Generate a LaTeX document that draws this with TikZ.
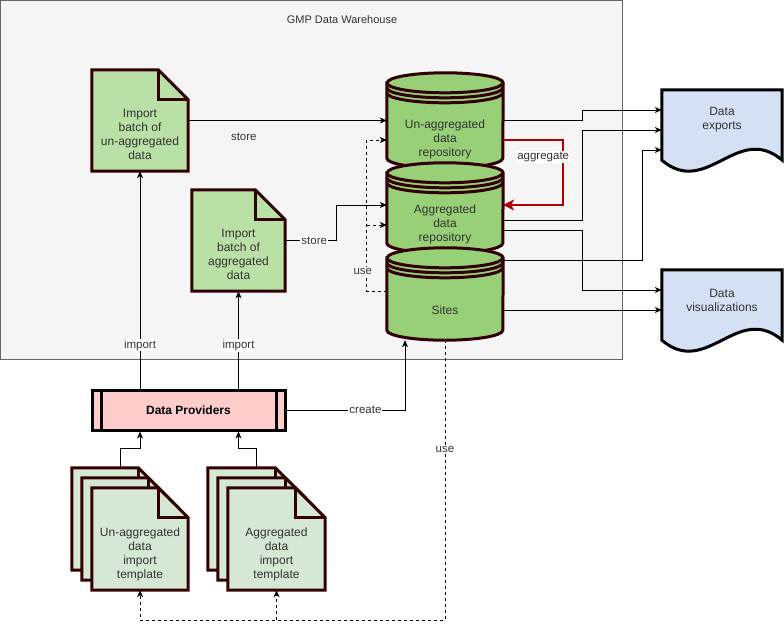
\documentclass[tikz,border=0pt]{standalone}
\usepackage{fontspec}
\setmainfont{Liberation Sans}
\usetikzlibrary{arrows.meta,shapes,calc}
\definecolor{wh_fill}{HTML}{F5F5F5}
\definecolor{wh_line}{HTML}{666666}
\definecolor{dark_line}{HTML}{330000}
\definecolor{batch_green}{HTML}{B9E0A5}
\definecolor{store_green}{HTML}{97D077}
\definecolor{tmpl_green}{HTML}{D5E8D4}
\definecolor{prov_pink}{HTML}{FFCCCC}
\definecolor{out_blue}{HTML}{D4E1F5}
\definecolor{aggr_red}{HTML}{B20000}
\definecolor{txt_gray}{HTML}{333333}

\pgfdeclarelayer{back}
\pgfsetlayers{back,main}

% page with folded corner round node #1, shifted by (#2,#3)pt
\newcommand{\foldpage}[4]{%
  \draw[shapeline,fill=#4] ([xshift=#2pt,yshift=#3pt]#1.north west)
    -- ([xshift=#2pt-30pt,yshift=#3pt]#1.north east)
    -- ([xshift=#2pt,yshift=#3pt-30pt]#1.north east)
    -- ([xshift=#2pt,yshift=#3pt]#1.south east)
    -- ([xshift=#2pt,yshift=#3pt]#1.south west) -- cycle;
  \draw[shapeline] ([xshift=#2pt-30pt,yshift=#3pt]#1.north east)
    |- ([xshift=#2pt,yshift=#3pt-30pt]#1.north east);
}
% data store drum round node #1
\newcommand{\datastore}[1]{%
  \draw[shapeline,fill=store_green] ([yshift=-10pt]#1.north west) -- ([yshift=10pt]#1.south west)
    arc[start angle=180,end angle=360,x radius=58pt,y radius=10pt]
    -- ([yshift=-10pt]#1.north east)
    arc[start angle=0,end angle=180,x radius=58pt,y radius=10pt] -- cycle;
  \foreach \d in {10pt,15pt,20pt}
    \draw[shapeline] ([yshift=-\d]#1.north west) arc[start angle=180,end angle=360,x radius=58pt,y radius=10pt];
}
% output document with wavy bottom
\newcommand{\wavepage}[1]{%
  \draw[shapeline,draw=black,fill=out_blue] (#1.south west) -- (#1.north west) -- (#1.north east) -- (#1.south east)
    .. controls ([xshift=-45pt,yshift=38pt]#1.south east) and ([xshift=45pt,yshift=-38pt]#1.south west) .. (#1.south west) -- cycle;
}

\begin{document}
\begin{tikzpicture}[x=1pt,y=-1pt,>={Stealth[length=7pt,width=6pt,inset=2pt]}]
    \tikzstyle{shapeline}=[draw=dark_line,line width=3pt]
    \tikzstyle{holder}=[inner sep=0pt]
    \tikzstyle{txt}=[text=txt_gray,align=center,font=\fontsize{12}{14}\selectfont]
    \tikzstyle{lbl}=[text=txt_gray,fill=white,inner sep=1pt,font=\fontsize{11.5}{13}\selectfont]
    \tikzstyle{flow}=[->,line width=1pt]
    \tikzstyle{useflow}=[->,line width=1pt,dashed]
    \tikzstyle{aggr}=[-{Stealth[length=11pt,width=11pt,inset=3pt]},draw=aggr_red,line width=1.5pt]
    \tikzstyle{provider}=[draw=black,line width=3pt,fill=prov_pink,minimum width=193pt,minimum height=40pt,inner sep=0pt,
      text=black,font=\bfseries\fontsize{12}{14}\selectfont,
      path picture={\draw[line width=3pt] ([xshift=9pt]path picture bounding box.north west) -- ([xshift=9pt]path picture bounding box.south west);
                    \draw[line width=3pt] ([xshift=-9pt]path picture bounding box.north east) -- ([xshift=-9pt]path picture bounding box.south east);}]
    \useasboundingbox (0,0) rectangle (784,629);

    \begin{pgfonlayer}{back}
    \node[holder,draw=wh_line,fill=wh_fill,line width=1pt,minimum width=622pt,minimum height=359pt] (gmp) at (311.5,180) {};
    \end{pgfonlayer}
    \node[txt,font=\fontsize{11}{13}\selectfont] (gmptitle) at (342,20) {GMP Data Warehouse};

    \node[holder,minimum width=96pt,minimum height=101pt,label={[txt,yshift=-13.5pt]center:{Import\\batch of\\un-aggregated\\data}}] (impU) at (140,120.5) {};
    \node[holder,minimum width=93pt,minimum height=101pt,label={[txt,yshift=-13.5pt]center:{Import\\batch of\\aggregated\\data}}] (impA) at (238.5,240.5) {};
    \node[holder,minimum width=116pt,minimum height=95pt,label={[txt,yshift=-18.5pt]center:{Un-aggregated\\data\\repository}}] (cylU) at (445,120.5) {};
    \node[holder,minimum width=116pt,minimum height=90pt,label={[txt,yshift=-16pt]center:{Aggregated\\data\\repository}}] (cylA) at (445,208) {};
    \node[holder,minimum width=116pt,minimum height=92pt,label={[txt,yshift=-16pt]center:{Sites}}] (sites) at (445,294) {};
    \node[holder,minimum width=120pt,minimum height=70pt,label={[txt,yshift=5pt]center:{Data\\exports}}] (exports) at (722,125) {};
    \node[holder,minimum width=120pt,minimum height=70pt,label={[txt,yshift=5pt]center:{Data\\visualizations}}] (viz) at (722,305) {};
    \node[provider] (dp) at (188.5,410) {Data Providers};
    \node[holder,minimum width=96pt,minimum height=102pt,label={[txt,yshift=-15pt]center:{Un-aggregated\\data\\import\\template}}] (tmplU) at (140,539) {};
    \node[holder,minimum width=97pt,minimum height=102pt,label={[txt,yshift=-15pt]center:{Aggregated\\data\\import\\template}}] (tmplA) at (276.5,539) {};

    \begin{pgfonlayer}{back}
    \foldpage{impU}{0}{0}{batch_green}
    \foldpage{impA}{0}{0}{batch_green}
    \datastore{cylU}
    \datastore{cylA}
    \datastore{sites}
    \wavepage{exports}
    \wavepage{viz}
    \foldpage{tmplU}{-20}{20}{tmpl_green}
    \foldpage{tmplU}{-10}{10}{tmpl_green}
    \foldpage{tmplU}{0}{0}{tmpl_green}
    \foldpage{tmplA}{-20}{20}{tmpl_green}
    \foldpage{tmplA}{-10}{10}{tmpl_green}
    \foldpage{tmplA}{0}{0}{tmpl_green}
    \end{pgfonlayer}

    % import and store
    \draw[flow] (dp.north -| impU) -- (impU.south) node[lbl,pos=0.2] {import};
    \draw[flow] (dp.north -| impA) -- (impA.south) node[lbl,pos=0.44] {import};
    \draw[flow] (impU.east) -- (impU.east -| cylU.west) node[lbl,fill=none,pos=0.28,yshift=-16pt] {store};
    \draw[flow] (impA.east) -- ++(51,0) node[lbl,pos=0.57] {store} |- ([yshift=3pt]cylA.west);
    \draw[useflow] ([yshift=3pt]sites.west) -- ++(-20,0) |- ([yshift=-19.5pt]cylU.west) node[lbl,pos=0.066,xshift=-4pt] {use};
    \draw[useflow] ([xshift=-20pt,yshift=-17pt]cylA.west) -- ([yshift=-17pt]cylA.west);
    \draw[aggr] ([yshift=-19.5pt]cylU.east) -- ++(60,0) |- ([yshift=3pt]cylA.east) node[lbl,pos=0.13,xshift=-20pt] {aggregate};

    % outputs
    \draw[flow] (cylU.east) -- ++(79,0) |- ([yshift=15pt]exports.west);
    \draw[flow] ([yshift=-12pt]cylA.east) -- ++(79,0) |- ([yshift=-5pt]exports.west);
    \draw[flow] ([yshift=34pt]sites.east) -- ++(139,0) |- ([yshift=-25pt]exports.west);
    \draw[flow] ([yshift=-22pt]cylA.east) -- ++(79,0) |- ([yshift=15pt]viz.west);
    \draw[flow] ([yshift=-16pt]sites.east) -- ([yshift=-5pt]viz.west);

    % providers and templates
    \draw[flow] (dp.east) -| ([xshift=-40pt]sites.south) node[lbl,pos=0.333] {create};
    \draw[flow] ([xshift=-20pt,yshift=20pt]tmplU.north) -- ++(0,-19) -| (dp.south -| impU);
    \draw[flow] ([xshift=-20pt,yshift=20pt]tmplA.north) -- ++(0,-19) -| (dp.south -| impA);
    \draw[useflow] (sites.south) |- ([yshift=-30pt]tmplU.south) node[lbl,pos=0.195] {use} -- (tmplU.south);
    \draw[useflow] ([yshift=-30pt]tmplA.south) -- (tmplA.south);
\end{tikzpicture}
\end{document}
